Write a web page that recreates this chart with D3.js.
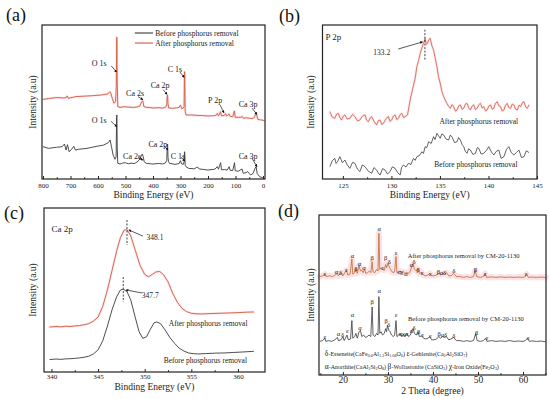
<!DOCTYPE html>
<html>
<head>
<meta charset="utf-8">
<script src="https://cdn.jsdelivr.net/npm/d3@7"></script>
<style>
  body { margin: 0; background: #fff; }
  text { font-family: "Liberation Serif", "DejaVu Serif", serif; }
</style>
</head>
<body>
<svg id="fig" width="550" height="399"></svg>
<script>
// ---- data (intensity in arbitrary units, 0-100 per panel) ----

// (a) XPS survey, [binding energy eV, intensity]
var surveyBefore = [[800,21],[780,19.9],[750,20.6],[730,21],[722,22.7],[716,18.8],[711,22.3],[705,17.7],[696,19.3],[688,21.2],[682,18.8],[670,19.3],[640,19.9],[600,21.4],[580,22],[562,23.6],[556,25.3],[551,21],[545,15.6],[538,12.8],[534,14.5],[532.5,40],[531.2,41.6],[530,20],[528,10.2],[520,9.7],[510,10.4],[500,10.6],[490,9.9],[480,10.3],[468,10.0],[458,11],[450,12.3],[443,15],[439,16.2],[436,14.8],[432,11.2],[425,10.2],[410,9.9],[400,9.7],[380,10.1],[365,9.8],[355,10.4],[350,12],[348,22.1],[346.8,22.7],[345.5,14.5],[344,11.5],[340,10.2],[320,9.5],[305,10],[300,11.9],[296,9.8],[290,9.5],[287,11],[285.5,17.7],[284.5,17],[283,9],[280,8],[270,6.9],[250,6.6],[238,7.8],[232,6.5],[215,6.2],[200,5.8],[175,6.4],[166,8],[162,6.4],[154,10.6],[151,6],[140,6.1],[130,5.8],[123,8],[119,5.6],[110,5.5],[103.5,10.6],[101,5.4],[90,5],[76,6.5],[72,3.7],[62,4.1],[56,4.8],[50,3.6],[45,2.6],[36,3.7],[29,6.9],[25,8],[21,3.5],[12,1.5],[3,0.9],[-5,0.4]];
var surveyAfter = [[800,51.7],[780,52.2],[750,52.9],[728,52.6],[716,52.8],[712,53.9],[708,52.4],[690,53.1],[680,53.5],[650,53.8],[620,54.1],[590,54.5],[565,55.2],[557,56.7],[553,55.4],[548,52.4],[542,49.2],[536,50.2],[533.5,60],[531.5,92],[530,62],[528,47],[520,46.5],[505,46.9],[490,46.7],[470,46.5],[455,46.9],[448,47.4],[441,50.2],[437,50.8],[433,47],[425,46.5],[410,46.4],[400,46.1],[380,46.3],[365,46.1],[355,46.5],[350,48],[348.5,53.4],[347,54.5],[345.5,49],[343,46.2],[330,45.9],[315,46.2],[305,46.5],[300,48],[296,45.8],[290,46],[287,47],[285.5,69.7],[284.5,69],[283,44],[280,41.6],[270,41.5],[260,41.6],[240,41.3],[220,41.2],[200,40.9],[180,41.1],[170,41.4],[166,42.6],[162,41],[154,43.7],[151,41],[141,41.2],[136,42.5],[132,40.8],[128,41.6],[123,42.2],[119,40.6],[110,40.5],[104,44.2],[101,40],[90,40.1],[80,40],[76,40.7],[71,39.4],[62,39.8],[55,39.6],[48,39.5],[40,39.2],[32,39.8],[28,41.6],[24,42.6],[19,38.7],[12,38.5],[5,38.3],[-5,37.9]];
// [label, text eV, text I, arrow start eV, start I, tip eV, tip I]
var surveyNotes = [
  ["O 1s", 596, 75, 552, 73.5, 533, 69.5],
  ["Ca 2s", 465, 56, 454, 53.5, 437, 51.5],
  ["Ca 2p", 374, 61, 363, 58, 349, 55],
  ["C 1s", 320, 71.5, 302, 69.5, 287, 66],
  ["P 2p", 174, 51, 156, 48, 142, 43],
  ["Ca 3p", 54, 48.5, 40, 46, 22, 42],
  ["O 1s", 596, 38.5, 553, 37.5, 532, 34],
  ["Ca 2s", 476, 14.5, 455, 14, 437, 12.3],
  ["Ca 2p", 382, 22.5, 361, 21.5, 346, 19],
  ["C 1s", 309, 15, 298, 14, 284, 11.7],
  ["Ca 3p", 54, 15, 40, 13.5, 22, 8]
];

// (b) P 2p
var p2pBefore = [[123.66,8.0],[123.9,11.8],[124.17,13.4],[124.3,10.1],[124.45,11.3],[124.69,14.5],[124.95,10.6],[125.21,12.3],[125.45,9.2],[125.72,6.9],[126.0,10.8],[126.24,10.2],[126.5,6.4],[126.76,4.8],[127.0,9.1],[127.28,8.0],[127.6,5.2],[127.97,3.7],[128.2,7.4],[128.48,5.8],[128.65,3.9],[128.83,2.6],[129.1,6.8],[129.34,5.8],[129.6,3.3],[129.86,4.8],[130.1,7.9],[130.38,6.9],[130.65,4.1],[130.9,2.6],[131.05,7.5],[131.24,9.1],[131.5,7.8],[131.76,10.2],[132.0,9.4],[132.28,13.4],[132.45,12.1],[132.62,14.5],[132.9,15.3],[133.14,17.7],[133.3,16.6],[133.48,21],[133.65,20.4],[133.83,24.2],[134.1,23.1],[134.34,27.5],[134.5,25.6],[134.69,29.7],[134.85,28.1],[135.03,26.4],[135.2,29.3],[135.38,28.6],[135.65,25.8],[135.9,25.3],[136.05,28.4],[136.24,27.5],[136.5,23.6],[136.76,24.2],[136.93,26.9],[137.1,25.3],[137.28,22.4],[137.45,21],[137.6,18.1],[137.79,16.7],[137.95,19.6],[138.14,18.8],[138.4,15.9],[138.66,16.7],[138.85,20.4],[139.0,19.9],[139.25,16.2],[139.52,16.7],[139.8,18.6],[140.03,21],[140.3,17.6],[140.55,15.6],[140.8,17.9],[141.07,18.8],[141.3,13.4],[141.59,14.5],[141.85,19.2],[142.1,21],[142.35,17.1],[142.62,15.6],[142.9,17.3],[143.14,18.8],[143.4,13.9],[143.66,14.5],[143.9,18.3],[144.17,17.2]];
var p2pAfter = [[123.66,43.7],[123.9,40.2],[124.17,39.4],[124.35,42.1],[124.52,42.6],[124.7,39.8],[124.86,38.3],[125.05,40.9],[125.21,41.6],[125.45,38.9],[125.72,39.4],[126.0,42.0],[126.24,40.5],[126.5,37.8],[126.76,38.3],[127.0,40.7],[127.28,41.6],[127.45,38.2],[127.62,37.2],[127.8,39.6],[127.97,40.5],[128.2,37.5],[128.48,35.1],[128.65,37.9],[128.83,38.3],[129.0,35.4],[129.17,36.1],[129.45,39.2],[129.69,40.5],[129.85,37.4],[130.03,38.3],[130.2,40.8],[130.38,41.6],[130.55,38.6],[130.72,39.4],[130.9,41.9],[131.07,42.6],[131.25,39.8],[131.41,40.5],[131.66,41.6],[131.93,51.3],[132.28,61],[132.45,65.5],[132.62,72.9],[132.8,77],[132.97,81.6],[133.24,87],[133.48,91.3],[133.6,87.5],[133.72,88.1],[133.85,90.5],[134.0,91.3],[134.17,86.5],[134.34,83.8],[134.5,78.8],[134.69,72.9],[134.85,66.5],[135.03,62.1],[135.2,56.8],[135.38,53.5],[135.55,51.2],[135.72,49.1],[135.9,47.2],[136.07,45.9],[136.25,48.3],[136.41,47],[136.6,44.1],[136.76,44.8],[136.93,47.5],[137.1,48.1],[137.28,45.2],[137.45,45.9],[137.62,48.6],[137.79,49.1],[137.97,46.2],[138.14,44.8],[138.3,47.3],[138.48,48.1],[138.65,45.1],[138.83,45.9],[139.0,48.2],[139.17,49.1],[139.35,46.1],[139.52,47],[139.7,44.2],[139.86,44.8],[140.03,47.3],[140.21,48.1],[140.38,45.3],[140.55,45.9],[140.72,49.1],[140.9,50.2],[141.07,47.5],[141.24,47],[141.4,44.3],[141.59,44.8],[141.75,47.8],[141.93,49.1],[142.1,46.4],[142.28,45.9],[142.45,48.7],[142.62,48.1],[142.8,45.3],[142.97,44.8],[143.15,47.9],[143.31,47],[143.5,49.6],[143.66,50.2],[143.83,46.8],[144.0,45.9],[144.17,48.1]];
var p2pPeak = 133.45;

// (c) Ca 2p
var ca2pBefore = [[339.8,7.6],[340.5,7.9],[341,7.7],[341.5,8.0],[342,8.1],[342.5,8.3],[343,8.6],[343.5,9],[344,9.6],[344.5,11],[345,13.5],[345.5,19],[346,28],[346.5,38],[347,46],[347.4,50],[347.7,50.5],[348.1,49],[348.5,44],[349,33],[349.4,24.5],[349.8,20.5],[350.2,21.5],[350.6,26],[351,30],[351.3,30.5],[351.7,29.5],[352.2,25.5],[352.7,21],[353.2,17.5],[353.7,14.5],[354.2,12.8],[354.7,11.6],[355.2,11.2],[355.7,11.0],[356.5,11.2],[357.5,11.5],[358.5,11.6],[359.5,11.9],[360.5,12.2],[361.7,12.6]];
var ca2pAfter = [[339.8,27.4],[340.5,27.8],[341,27.5],[341.5,27.9],[342,27.7],[342.5,28.1],[343,28.3],[343.5,28.8],[344,29.5],[344.5,31],[345,33.5],[345.5,40],[346,50],[346.5,62],[347,74],[347.4,82],[347.8,86.5],[348.1,86.8],[348.5,83],[349,74],[349.5,65],[350,59.5],[350.4,58],[350.8,59.5],[351.2,61],[351.6,61.3],[352,59.5],[352.5,55],[353,48],[353.5,42.5],[354,38.8],[354.5,36.8],[355,35.8],[355.5,35.5],[356,35.4],[357,35.6],[358,35.8],[359,36],[360,36.2],[361,36.5],[361.7,36.6]];
var ca2pPeaks = [348.1, 347.7];

// (d) XRD, [2 theta, intensity]
var xrdBefore = [[14.9,21],[15.5,21.5],[16.0,23],[16.2,21],[16.8,21.5],[17.5,21],[18.2,22],[18.8,23.5],[19.0,21.5],[19.6,22],[20.0,24],[20.3,21.5],[20.9,25],[21.2,22],[21.7,22.5],[22.0,34],[22.2,23],[22.6,24],[22.9,26],[23.2,23],[23.6,27],[23.9,28],[24.2,24],[24.6,25],[25.0,23.5],[25.4,24],[25.8,25],[26.2,24],[26.5,42.5],[26.7,25],[27.1,24],[27.5,26],[27.8,25],[28.0,49],[28.2,26],[28.5,27],[28.8,25],[29.2,26],[29.5,29],[29.7,27],[29.9,31],[30.2,28],[30.5,27],[30.8,25],[31.2,24],[31.5,25],[31.8,34],[32.0,24],[32.4,25],[32.7,26],[33.0,24],[33.4,25.5],[33.8,24],[34.2,26],[34.6,24],[35.0,25],[35.3,28],[35.6,29],[35.9,26],[36.3,25],[36.7,27],[37.0,24],[37.5,24.5],[37.9,23],[38.4,22.5],[38.9,23],[39.3,24],[39.7,22],[40.2,22],[40.8,22.5],[41.3,24],[41.7,23],[42.1,24],[42.6,23.5],[43.0,24],[43.5,22],[44.0,22.5],[44.6,23.5],[45.2,21.5],[46,21.5],[46.8,21],[47.5,21.5],[48.3,21],[49.0,21.5],[49.5,26],[49.8,21.5],[50.5,21],[51.2,21.5],[51.7,23],[52.0,21],[53,21.5],[54,21],[55,21.3],[56,21],[57,21.5],[58,21],[59,21.2],[60,21],[60.5,21.5],[61.0,23],[61.4,21],[62,21.3],[63,21],[64,21.2],[65,20.8]];
var xrdAfter = [[14.9,61.5],[15.5,62],[16.0,63],[16.3,61.5],[17,62],[17.7,61.5],[18.3,62.5],[18.7,63.5],[19.0,62],[19.7,64],[20.0,62],[20.8,65.5],[21.1,62.5],[21.6,63],[22.0,72.5],[22.2,63],[22.6,64],[22.9,66.5],[23.2,63.5],[23.6,68.5],[23.9,65],[24.2,65.5],[24.5,64],[24.8,66],[25.1,63.5],[25.5,64],[25.9,65],[26.2,64],[26.5,70.8],[26.7,64.5],[27.1,64],[27.5,66],[27.8,65],[28.0,88.5],[28.2,66],[28.5,67],[28.8,66],[29.2,65.5],[29.5,69],[29.7,67],[30.0,70],[30.3,67.5],[30.6,66],[30.9,64.5],[31.3,64],[31.5,65],[31.8,74],[32.0,64],[32.4,64.5],[32.7,65],[33.0,64],[33.4,64.5],[33.8,63.5],[34.2,64],[34.6,63.5],[35.0,65],[35.3,68],[35.6,69.5],[35.9,66],[36.3,65],[36.6,66.5],[37.0,63.5],[37.5,64],[37.9,62.5],[38.4,62],[38.9,62.5],[39.3,63.5],[39.7,62],[40.2,62],[40.8,62.5],[41.3,63.5],[41.7,62.5],[42.2,63.5],[42.6,63],[43.0,64],[43.5,62],[44.0,62],[44.6,63.5],[45.2,61.5],[46,61.5],[46.8,61],[47.5,61.5],[48.3,61],[49.0,61.5],[49.4,65.5],[49.7,61.5],[50.5,61],[51.2,61.5],[51.6,63.5],[51.9,61],[53,61.3],[54,61],[55,61.3],[56,61],[57,61.2],[58,61],[59,61.2],[60,61],[60.5,61.5],[60.8,63],[61.2,61],[62,61.2],[63,61],[64,61.2],[65,61]];
var phaseAfter = [[16.0,"ε",63.5],[18.6,"α",64.5],[19.4,"δ",63.8],[20.8,"ε",65.5],[22.1,"α",74.5],[22.9,"β",66.5],[23.7,"α",69.5],[24.7,"α",67],[26.5,"β",73],[28.05,"α",91.5],[28.8,"ε",67.2],[29.5,"β",73.3],[30.3,"δ",70.8],[31.8,"ε",76.5],[32.5,"α",64.5],[33.1,"χ",64.5],[34.0,"α",63.2],[35.2,"α",68.8],[35.8,"δ",70.6],[36.7,"β",65.8],[37.6,"ε",63.8],[39.4,"ε",63.2],[41.2,"β",64.5],[41.9,"α",64],[42.6,"δ",64.2],[44.6,"δ",65.2],[49.4,"β",65.8],[51.6,"ε",63.4],[60.7,"ε",63.2]];
var phaseBefore = [[16.0,"ε",24],[19.0,"α",25.6],[19.9,"δ",25],[21.0,"ε",27.5],[22.1,"α",37.5],[23.8,"α",29.8],[26.5,"β",45.5],[28.05,"α",52.5],[29.6,"β",34],[30.2,"δ",31.5],[31.8,"ε",37.5],[32.8,"α",26],[33.5,"χ",26],[34.2,"α",25.8],[35.2,"α",27.8],[35.8,"δ",29.5],[36.8,"β",27],[37.7,"ε",25],[39.4,"ε",24.4],[41.4,"β",25.6],[42.1,"α",25],[42.8,"δ",25],[44.6,"δ",24.4],[49.7,"β",26.5],[52,"ε",23.6],[61.2,"ε",23]];
var phaseLegend = [
  "δ-Esseneite(CaFe_{0.6}Al_{1.3}Si_{1.08}O_{6})  ε-Gehlenite(Ca_{2}Al_{2}SiO_{7})",
  "α-Anorthite(CaAl_{2}Si_{2}O_{8})  β-Wollastonite (CaSiO_{3})  χ-Iron Oxide(Fe_{2}O_{3})"
];

var BLACK = "#3a3a3a", RED = "#d35a40", HALO = "#f9d6dd";

var svg = d3.select("#fig");

// arrow head
svg.append("defs").append("marker")
  .attr("id", "head").attr("viewBox", "0 0 6 6").attr("refX", 5).attr("refY", 3)
  .attr("markerWidth", 4).attr("markerHeight", 4).attr("orient", "auto")
  .append("path").attr("d", "M0,0L6,3L0,6z").attr("fill", "#111");

// build one panel: frame, bottom axis, titles
function makePanel(p) {
  var x = d3.scaleLinear().domain(p.xDomain).range([p.left, p.right]);
  var y = d3.scaleLinear().domain([0, 100]).range([p.bottom, p.top]);
  var g = svg.append("g");

  var ax = g.append("g").attr("transform", `translate(0,${p.bottom})`)
    .call(d3.axisBottom(x).tickValues(p.ticks).tickSize(-3).tickPadding(p.pad).tickFormat(d3.format("d")));
  ax.select(".domain").remove();
  ax.selectAll("line").attr("stroke", "#222");
  ax.selectAll("text").attr("font-family", "Liberation Serif").attr("font-size", p.tickFont).attr("fill", "#222");

  var mx = g.append("g").attr("transform", `translate(0,${p.bottom})`)
    .call(d3.axisBottom(x).tickValues(p.minor).tickSize(-1.8).tickFormat(""));
  mx.select(".domain").remove();
  mx.selectAll("line").attr("stroke", "#222");

  g.append("text").attr("x", (p.left + p.right) / 2).attr("y", p.titleY)
    .attr("text-anchor", "middle").attr("font-size", 9.5).attr("fill", "#222").text(p.xTitle);
  g.append("text").attr("transform", `translate(${p.yTitleX},${(p.top + p.bottom) / 2}) rotate(-90)`)
    .attr("text-anchor", "middle").attr("font-size", 9.5).attr("fill", "#222").text("Intensity (a.u)");
  g.append("text").attr("x", p.letterX).attr("y", p.letterY)
    .attr("font-size", 18).attr("fill", "#111").text(p.letter);

  var plot = g.append("g");
  g.append("rect").attr("x", p.left).attr("y", p.top)
    .attr("width", p.right - p.left).attr("height", p.bottom - p.top)
    .attr("fill", "none").attr("stroke", "#222").attr("stroke-width", 1.2);
  return { x: x, y: y, g: plot };
}

function drawCurve(P, data, color, width, halo, haloOpacity) {
  var line = d3.line().x(d => P.x(d[0])).y(d => P.y(d[1]));
  if (halo) {
    P.g.append("path").datum(data).attr("d", line).attr("fill", "none")
      .attr("stroke", HALO).attr("stroke-width", halo).attr("stroke-linejoin", "round")
      .attr("stroke-linecap", "round").attr("opacity", haloOpacity);
  }
  P.g.append("path").datum(data).attr("d", line).attr("fill", "none")
    .attr("stroke", color).attr("stroke-width", width).attr("stroke-linejoin", "round");
}

function label(P, xv, yv, txt, size, anchor) {
  return P.g.append("text").attr("x", P.x(xv)).attr("y", P.y(yv))
    .attr("text-anchor", anchor || "middle").attr("font-size", size).attr("fill", "#222").text(txt);
}

function arrow(P, x0, y0, x1, y1) {
  P.g.append("line").attr("x1", P.x(x0)).attr("y1", P.y(y0)).attr("x2", P.x(x1)).attr("y2", P.y(y1))
    .attr("stroke", "#111").attr("stroke-width", 0.7).attr("marker-end", "url(#head)");
}

function dashed(P, xv, ya, yb) {
  P.g.append("line").attr("x1", P.x(xv)).attr("x2", P.x(xv)).attr("y1", P.y(ya)).attr("y2", P.y(yb))
    .attr("stroke", "#111").attr("stroke-width", 0.8).attr("stroke-dasharray", "2,1.5");
}

// ---------- (a) survey ----------
var A = makePanel({ left: 42, right: 265, top: 25, bottom: 179, xDomain: [803.6, -7.3],
  ticks: d3.range(800, -1, -100), minor: d3.range(750, 0, -100), pad: 4, tickFont: 7,
  xTitle: "Binding Energy (eV)", titleY: 197.5, yTitleX: 36, letter: "(a)", letterX: 6, letterY: 21 });
drawCurve(A, surveyBefore, BLACK, 0.9);
drawCurve(A, surveyAfter, RED, 0.9, 2.5, 0.6);
surveyNotes.forEach(function(n) {
  label(A, n[1], n[2], n[0], 8).attr("dy", "0.35em");
  arrow(A, n[3], n[4], n[5], n[6]);
});
[[BLACK, 94.8, "Before phosphorus removal"], [RED, 88.3, "After phosphorus removal"]].forEach(function(l) {
  A.g.append("line").attr("x1", A.x(466)).attr("x2", A.x(400)).attr("y1", A.y(l[1])).attr("y2", A.y(l[1]))
    .attr("stroke", l[0]).attr("stroke-width", 1.1);
  label(A, 392, l[1], l[2], 7.5, "start").attr("dy", "0.35em");
});

// ---------- (b) P 2p ----------
var B = makePanel({ left: 322.5, right: 537, top: 25, bottom: 179, xDomain: [122.9, 145],
  ticks: d3.range(125, 146, 5), minor: d3.range(127.5, 145, 5), pad: 4, tickFont: 7,
  xTitle: "Binding Energy (eV)", titleY: 197.5, yTitleX: 314, letter: "(b)", letterX: 279, letterY: 22 });
drawCurve(B, p2pBefore, BLACK, 0.8);
drawCurve(B, p2pAfter, RED, 0.8, 2.5, 0.6);
label(B, 123.2, 90.5, "P 2p", 9, "start");
dashed(B, p2pPeak, 97, 77);
label(B, 129.0, 82.5, "133.2", 7.5).attr("dy", "0.35em");
arrow(B, 130.7, 84.4, 133.2, 89);
label(B, 139.0, 35.7, "After phosphorus removal", 7.5);
label(B, 138.7, 7.8, "Before phosphorus removal", 7.5);

// ---------- (c) Ca 2p ----------
var C = makePanel({ left: 44, right: 265, top: 208, bottom: 372, xDomain: [339.2, 362.9],
  ticks: d3.range(340, 361, 5), minor: d3.range(342.5, 362, 5), pad: 2, tickFont: 7,
  xTitle: "Binding Energy (eV)", titleY: 390, yTitleX: 36, letter: "(c)", letterX: 4, letterY: 219 });
drawCurve(C, ca2pBefore, BLACK, 0.9);
drawCurve(C, ca2pAfter, RED, 0.9, 2.5, 0.6);
label(C, 340.0, 85.5, "Ca 2p", 9, "start");
dashed(C, ca2pPeaks[0], 92.7, 77.4);
dashed(C, ca2pPeaks[1], 57.9, 42.7);
label(C, 351.1, 82, "348.1", 7.5).attr("dy", "0.35em");
arrow(C, 349.8, 82.9, 348.3, 86.6);
label(C, 350.6, 47, "347.7", 7.5).attr("dy", "0.35em");
arrow(C, 349.7, 48.2, 348.0, 50);
label(C, 356.8, 28, "After phosphorus removal", 7.5);
label(C, 356.5, 5.5, "Before phosphorus removal", 7.5);

// ---------- (d) XRD ----------
var D = makePanel({ left: 319, right: 546, top: 215, bottom: 375, xDomain: [14.7, 65.1],
  ticks: d3.range(20, 61, 10), minor: d3.range(15, 66, 10), pad: 1.5, tickFont: 9.5,
  xTitle: "2 Theta (degree)", titleY: 394, yTitleX: 314, letter: "(d)", letterX: 278, letterY: 217 });
drawCurve(D, xrdBefore, BLACK, 0.8);
drawCurve(D, xrdAfter, "#b96a32", 0.8, 6, 0.7);
phaseAfter.forEach(function(p) { label(D, p[0], p[2], p[1], 6.5).attr("dy", "0.35em"); });
phaseBefore.forEach(function(p) { label(D, p[0], p[2], p[1], 6.5).attr("dy", "0.35em"); });
label(D, 46.8, 73, "After phosphorus removal by CM-20-1130", 6.5);
label(D, 47.3, 33.5, "Before phosphorus removal by CM-20-1130", 6.5);

// legend with subscripts
phaseLegend.forEach(function(s, i) {
  var t = label(D, 16.0, i === 0 ? 11.9 : 3.75, "", 6, "start");
  s.split(/(_\{[^}]*\})/).forEach(function(part) {
    if (!part) return;
    if (part[0] === "_") {
      t.append("tspan").attr("font-size", 4.2).attr("baseline-shift", "-25%").text(part.slice(2, -1));
    } else {
      part.split(/([δεαβχ])/).forEach(function(q) {
        if (!q) return;
        t.append("tspan").attr("font-size", /[δεαβχ]/.test(q) ? 7.5 : 6).text(q);
      });
    }
  });
});
</script>
</body>
</html>
